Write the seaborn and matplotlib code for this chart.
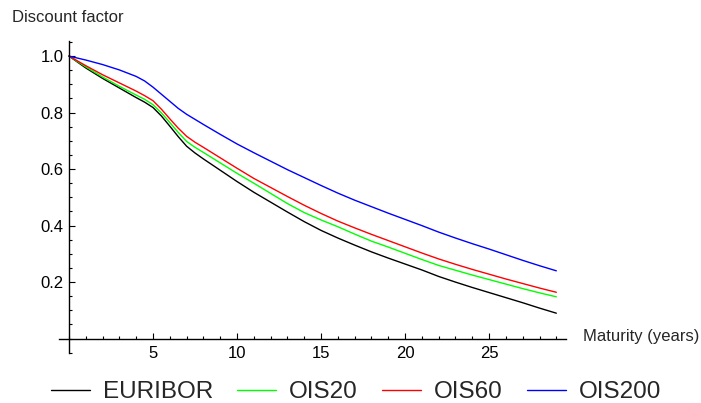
import matplotlib
matplotlib.use('Agg')
import matplotlib.pyplot as plt
import matplotlib.ticker as mticker
import seaborn as sns
import pandas as pd

# maturities in years and discount factors
years = [0, 1, 2, 3, 4, 4.5, 5, 5.5, 6, 6.5, 7, 7.5, 8, 9,
         10, 11, 12, 13, 14, 15, 16, 17, 18, 19,
         20, 21, 22, 23, 24, 25, 26, 27, 28, 29]
euribor = [1.000, 0.958, 0.921, 0.887, 0.853, 0.837, 0.818, 0.788, 0.752, 0.715,
           0.681, 0.657, 0.636, 0.596,
           0.556, 0.518, 0.483, 0.448, 0.414, 0.383, 0.356, 0.331, 0.307, 0.285,
           0.264, 0.243, 0.220, 0.200, 0.181, 0.163, 0.145, 0.127, 0.108, 0.090]
ois20 = [1.000, 0.962, 0.926, 0.893, 0.862, 0.847, 0.828, 0.799, 0.765, 0.730,
         0.698, 0.677, 0.659, 0.622,
         0.585, 0.550, 0.514, 0.478, 0.446, 0.420, 0.396, 0.370, 0.345, 0.324,
         0.302, 0.280, 0.259, 0.242, 0.225, 0.209, 0.193, 0.177, 0.162, 0.148]
ois60 = [1.000, 0.966, 0.934, 0.905, 0.876, 0.860, 0.842, 0.812, 0.778, 0.745,
         0.716, 0.695, 0.677, 0.640,
         0.603, 0.567, 0.535, 0.503, 0.472, 0.443, 0.416, 0.392, 0.369, 0.347,
         0.325, 0.303, 0.282, 0.263, 0.245, 0.228, 0.211, 0.195, 0.179, 0.164]
ois200 = [1.000, 0.986, 0.970, 0.951, 0.928, 0.912, 0.890, 0.865, 0.840, 0.815,
          0.794, 0.776, 0.758, 0.723,
          0.689, 0.658, 0.628, 0.598, 0.570, 0.542, 0.515, 0.490, 0.467, 0.444,
          0.422, 0.400, 0.377, 0.356, 0.336, 0.317, 0.297, 0.277, 0.258, 0.240]

series_names = ['EURIBOR', 'OIS20', 'OIS60', 'OIS200']
series_colors = ['#000000', '#00ff00', '#ff0000', '#0000ff']
x_major = [5, 10, 15, 20, 25]
y_major = [0.2, 0.4, 0.6, 0.8, 1.0]

df = pd.DataFrame({'Maturity': years, 'EURIBOR': euribor, 'OIS20': ois20,
                   'OIS60': ois60, 'OIS200': ois200})
df = df.melt(id_vars='Maturity', var_name='curve', value_name='factor')

sns.set_style('white')
plt.rcParams['font.family'] = ['Liberation Sans', 'DejaVu Sans']

fig = plt.figure(figsize=(7.01, 4.03), dpi=100)
ax = fig.add_axes([0.084, 0.124, 0.724, 0.774])

sns.lineplot(data=df, x='Maturity', y='factor', hue='curve', hue_order=series_names,
             palette=series_colors, linewidth=1.0, ax=ax)

ax.set_xlim(-0.6, 29.6)
ax.set_ylim(-0.051, 1.053)
ax.set_xlabel('')
ax.set_ylabel('')

# Mathematica-style axes crossing at the origin
for side in ['top', 'right']:
    ax.spines[side].set_visible(False)
ax.spines['left'].set_position(('data', 0))
ax.spines['bottom'].set_position(('data', 0))
for side in ['left', 'bottom']:
    ax.spines[side].set_linewidth(1.0)
    ax.spines[side].set_color('black')

ax.xaxis.set_major_locator(mticker.FixedLocator(x_major))
ax.xaxis.set_minor_locator(mticker.MultipleLocator(1))
ax.yaxis.set_major_locator(mticker.FixedLocator(y_major))
ax.yaxis.set_minor_locator(mticker.MultipleLocator(0.05))
ax.yaxis.set_major_formatter(mticker.FormatStrFormatter('%.1f'))
ax.tick_params(which='both', direction='in', bottom=True, left=True,
               color='black', width=0.8, labelsize=12, labelcolor='black')
ax.tick_params(which='major', length=4.5)
ax.tick_params(which='minor', length=2.5)
ax.tick_params(axis='x', which='major', pad=5)
ax.tick_params(axis='y', which='major', pad=4)

fig.text(12 / 701, 1 - 18 / 403, 'Discount factor', fontsize=12, va='center', ha='left')
fig.text(583 / 701, 1 - 337 / 403, 'Maturity (years)', fontsize=12, va='center', ha='left')

handles, labels = ax.get_legend_handles_labels()
ax.get_legend().remove()
fig.legend(handles, labels, loc='center', bbox_to_anchor=(0.508, 0.027), ncol=4,
           frameon=False, fontsize=17.5, handlelength=1.6, handletextpad=0.53,
           columnspacing=1.0, borderpad=0.1)

fig.savefig('out.png', dpi=100)
